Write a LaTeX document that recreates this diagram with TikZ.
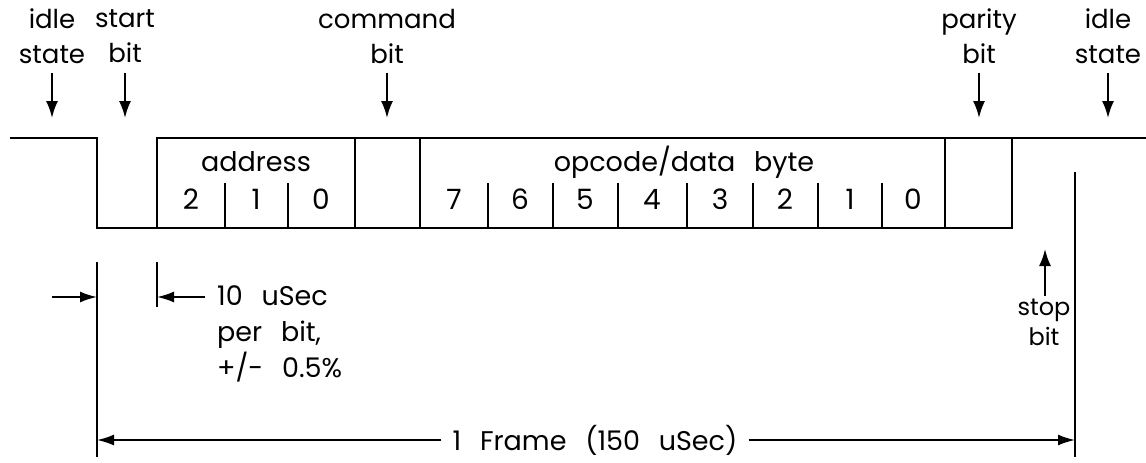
\documentclass[tikz,border=0pt]{standalone}
\usepackage{fontspec}
\setmainfont[WordSpace=2.6]{Poppins}
\usetikzlibrary{arrows.meta}
\tikzset{
  sig/.style={line width=2pt, line join=miter},
  lbl/.style={font=\fontsize{26}{35}\selectfont, align=center, inner sep=0pt},
  txt/.style={font=\fontsize{27}{36}\selectfont, inner sep=0pt},
  dig/.style={font=\fontsize{28}{30}\selectfont, inner sep=0pt},
  ptr/.style={line width=2pt, -{Latex[length=17pt,width=12pt]}},
  dim/.style={line width=1.8pt, -{Latex[length=17pt,width=11pt]}}
}
\begin{document}
\begin{tikzpicture}[x=1pt,y=-1pt]
\useasboundingbox (0,0) rectangle (1146,463);
% bit boundaries
\foreach \n/\x in {0/97,1/157,2/225,3/288,4/355,5/420,6/488,7/553,8/618,9/687,10/753,11/818,12/882,13/945,14/1012,15/1075}{
  \coordinate (hi\n) at (\x,138);
  \coordinate (lo\n) at (\x,228);
  \coordinate (md\n) at (\x,183);
}
\coordinate (lstart) at (10,138);
\coordinate (rend) at (1146,138);
% signal
\draw[sig] (lstart) -- (hi0) -- (lo0) -- (lo14) -- (hi14);
\draw[sig] (lo1) -- (hi1) -- (rend);
\foreach \n in {4,5,13}{\draw[sig] (hi\n) -- (lo\n);}
\foreach \n in {2,3,6,7,8,9,10,11,12}{\draw[sig] (md\n) -- (lo\n);}
% field labels
\node[txt] (addr) at (256,162) {address};
\node[txt] (opc) at (684,162) {opcode/data byte};
\foreach \n/\x/\d in {a2/191/2,a1/256/1,a0/321/0,d7/454/7,d6/520/6,d5/585/5,d4/652/4,d3/720/3,d2/785/2,d1/850/1,d0/913/0}{
  \node[dig] (\n) at (\x,199) {\d};
}
% top labels
\node[lbl] (idleL) at (52,36) {idle\\state};
\node[lbl] (startL) at (125,36) {start\\bit};
\node[lbl] (cmdL) at (387,36) {command\\bit};
\node[lbl] (parL) at (979,36) {parity\\bit};
\node[lbl] (idleR) at (1108,36) {idle\\state};
\foreach \n/\x in {idleL/52,startL/125,cmdL/387,parL/979,idleR/1108}{
  \coordinate (\n top) at (\x,73);
  \coordinate (\n tip) at (\x,118);
  \draw[ptr] (\n top) -- (\n tip);
}
% bottom dimension lines
\coordinate (v0a) at (97,262); \coordinate (v0b) at (97,457);
\coordinate (v1a) at (157,262); \coordinate (v1b) at (157,307);
\coordinate (v2a) at (1075,172); \coordinate (v2b) at (1075,457);
\draw[line width=1.8pt] (v0a) -- (v0b);
\draw[line width=1.8pt] (v1a) -- (v1b);
\draw[line width=1.8pt] (v2a) -- (v2b);
\coordinate (bitL) at (52,297); \coordinate (bitLt) at (97,297);
\coordinate (bitR) at (205,297); \coordinate (bitRt) at (157,297);
\draw[dim] (bitL) -- (bitLt);
\draw[dim] (bitR) -- (bitRt);
\node[txt, anchor=north west, align=left] (bitT) at (217,285) {10 uSec\\per bit,\\+/- 0.5\%};
% stop bit
\node[txt, align=center, font=\fontsize{24}{30}\selectfont, anchor=north] (stopL) at (1044,299) {stop\\bit};
\coordinate (stopA) at (1045,296); \coordinate (stopB) at (1045,249);
\draw[ptr] (stopA) -- (stopB);
% frame
\node[txt, inner xsep=11pt] (frame) at (595,440) {1 Frame (150 uSec)};
\coordinate (fL) at (97,440); \coordinate (fR) at (1075,440);
\draw[dim] (frame.west) -- (fL);
\draw[dim] (frame.east) -- (fR);
\end{tikzpicture}
\end{document}
